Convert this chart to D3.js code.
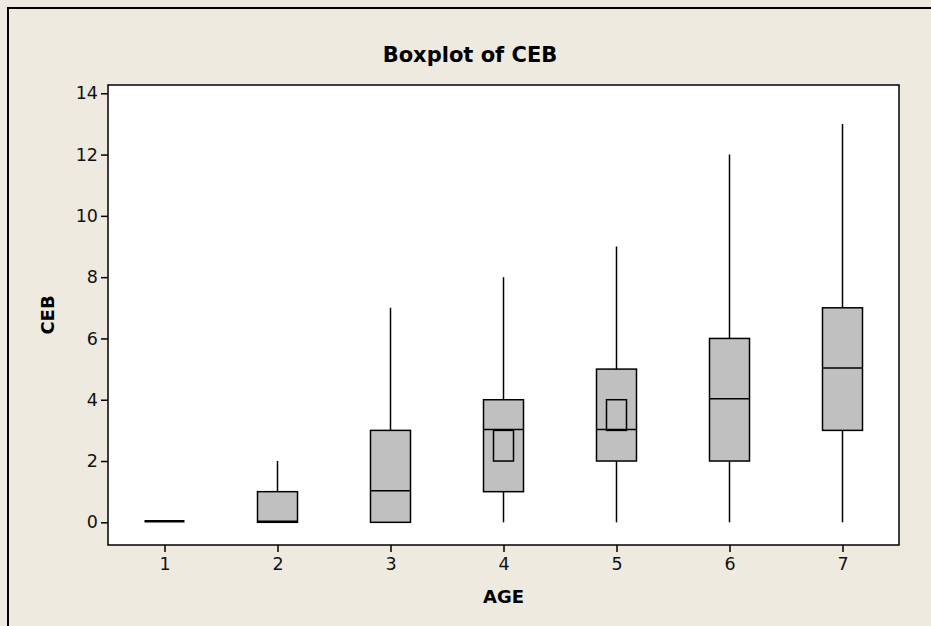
<!DOCTYPE html>
<html><head><meta charset="utf-8">
<script src="https://cdn.jsdelivr.net/npm/d3@7"></script>
<style>html,body{margin:0;padding:0;background:#EEEAE0;}svg{display:block;}</style>
</head><body>
<script>
const categories = ["1","2","3","4","5","6","7"];
const whiskerLow = [0,0,0,0,0,0,0];
const q1 =        [0,0,0,1,2,2,3];
const median =    [0,0,1,3,3,4,5];
const q3 =        [0,1,3,4,5,6,7];
const whiskerHigh=[0,2,7,8,9,12,13];
const ciLow =     [null,null,null,2,3,null,null];
const ciHigh =    [null,null,null,3,4,null,null];
const yTicks = [0,2,4,6,8,10,12,14];

const W=931,H=626;
const m={left:108,right:899,top:85,bottom:545};
const font="DejaVu Sans, Verdana, sans-serif";
const svg=d3.select("body").append("svg").attr("width",W).attr("height",H);
svg.append("rect").attr("width",W).attr("height",H).attr("fill","#EEEAE0");
svg.append("path").attr("d",`M8,${H} V8 H${W}`).attr("fill","none").attr("stroke","#000").attr("stroke-width",2);

const x=d3.scaleLinear().domain([0.5,7.5]).range([m.left,m.right]);
const y=d3.scaleLinear().domain([-0.74,14.27]).range([m.bottom,m.top]);

svg.append("rect").attr("x",m.left).attr("y",m.top).attr("width",m.right-m.left).attr("height",m.bottom-m.top)
  .attr("fill","#fff").attr("stroke","#000").attr("stroke-width",1.5);

const yAxis=d3.axisLeft(y).tickValues(yTicks).tickSize(7).tickPadding(3).tickSizeOuter(0);
const gy=svg.append("g").attr("transform",`translate(${m.left},0)`).call(yAxis);
const xAxis=d3.axisBottom(x).tickValues(categories.map((c,i)=>i+1)).tickFormat((d,i)=>categories[i]).tickSize(7).tickPadding(6).tickSizeOuter(0);
const gx=svg.append("g").attr("transform",`translate(0,${m.bottom})`).call(xAxis);
[gx,gy].forEach(g=>{g.select(".domain").remove();
  g.selectAll("line").attr("stroke","#000").attr("stroke-width",1.5);
  g.selectAll("text").attr("font-family",font).attr("font-size",17.5).attr("fill","#111");});

const bw=40, cw=20;
const data=categories.map((c,i)=>({i:i+1,lo:whiskerLow[i],q1:q1[i],med:median[i],q3:q3[i],hi:whiskerHigh[i],cl:ciLow[i],ch:ciHigh[i]}));
const g=svg.append("g");
data.forEach(d=>{
  const cx=x(d.i);
  if(d.q3>d.q1){
    g.append("line").attr("x1",cx).attr("x2",cx).attr("y1",y(d.hi)).attr("y2",y(d.q3)).attr("stroke","#000").attr("stroke-width",1.5);
    g.append("line").attr("x1",cx).attr("x2",cx).attr("y1",y(d.q1)).attr("y2",y(d.lo)).attr("stroke","#000").attr("stroke-width",1.5);
    g.append("rect").attr("x",cx-bw/2).attr("y",y(d.q3)).attr("width",bw).attr("height",y(d.q1)-y(d.q3))
      .attr("fill","#C0C0C0").attr("stroke","#000").attr("stroke-width",1.5);
    if(d.cl!=null){
      g.append("rect").attr("x",cx-cw/2).attr("y",y(d.ch)).attr("width",cw).attr("height",y(d.cl)-y(d.ch))
        .attr("fill","#C0C0C0").attr("stroke","#000").attr("stroke-width",1.5);
    }
  }
  g.append("line").attr("x1",cx-bw/2).attr("x2",cx+bw/2).attr("y1",y(d.med)-1).attr("y2",y(d.med)-1).attr("stroke","#000").attr("stroke-width",d.q3>d.q1?1.5:2.5);
});

svg.append("text").attr("x",470).attr("y",62).attr("text-anchor","middle").attr("font-family",font).attr("font-weight","bold").attr("font-size",21).attr("fill","#000").text("Boxplot of CEB");
svg.append("text").attr("x",(m.left+m.right)/2).attr("y",603).attr("text-anchor","middle").attr("font-family",font).attr("font-weight","bold").attr("font-size",18).attr("fill","#000").text("AGE");
svg.append("text").attr("transform",`translate(54,${(m.top+m.bottom)/2}) rotate(-90)`).attr("text-anchor","middle").attr("font-family",font).attr("font-weight","bold").attr("font-size",18).attr("fill","#000").text("CEB");
</script>
</body></html>
